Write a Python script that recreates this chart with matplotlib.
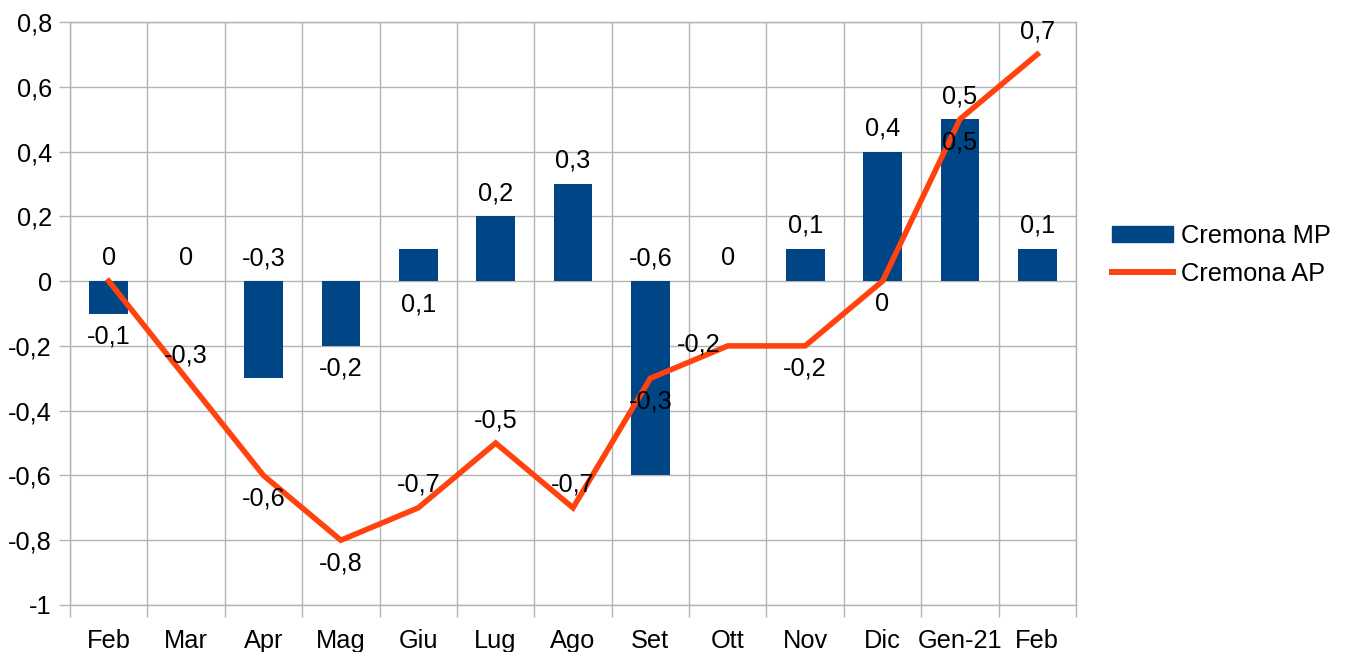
import matplotlib
matplotlib.use('Agg')
import matplotlib.pyplot as plt
from matplotlib.patches import Patch
from matplotlib.lines import Line2D
from matplotlib.ticker import FixedLocator, FuncFormatter

plt.rcParams['font.family'] = ['Liberation Sans', 'DejaVu Sans']

categories = ['Feb', 'Mar', 'Apr', 'Mag', 'Giu', 'Lug', 'Ago', 'Set', 'Ott', 'Nov', 'Dic', 'Gen-21', 'Feb']
mp_values = [-0.1, 0, -0.3, -0.2, 0.1, 0.2, 0.3, -0.6, 0, 0.1, 0.4, 0.5, 0.1]
ap_values = [0, -0.3, -0.6, -0.8, -0.7, -0.5, -0.7, -0.3, -0.2, -0.2, 0, 0.5, 0.7]
y_ticks = [-1, -0.8, -0.6, -0.4, -0.2, 0, 0.2, 0.4, 0.6, 0.8]
series_names = ['Cremona MP', 'Cremona AP']

# label placement (style): where each data label sits
mp_label_place = ['end_below', 'end_above', 'zero_above', 'end_below', 'zero_below', 'end_above',
                  'end_above', 'zero_above', 'end_above', 'end_above', 'end_above', 'end_above', 'end_above']
ap_label_place = ['above', 'above', 'below', 'below', 'above', 'above', 'above', 'below',
                  'left', 'below', 'below', 'below', 'above']

BAR_C = '#004586'
LINE_C = '#ff420e'
GRID_C = '#b3b3b3'
FS = 18.3

W, H = 1346, 652
fig = plt.figure(figsize=(W / 100, H / 100), dpi=100)
L, R, T, B = 70, 1076, 22, 605
ax = fig.add_axes([L / W, (H - B) / H, (R - L) / W, (B - T) / H])

x = list(range(len(categories)))
ax.bar(x, mp_values, width=0.5, color=BAR_C, zorder=2)
ax.plot(x, ap_values, color=LINE_C, lw=4.0, zorder=3, solid_joinstyle='miter')

ax.set_xlim(-0.5, len(categories) - 0.5)
ax.set_ylim(-1, 0.8)
ax.set_yticks(y_ticks)
ax.yaxis.set_major_formatter(FuncFormatter(lambda v, p: ('%g' % round(v, 1)).replace('.', ',')))
ax.set_xticks(x)
ax.set_xticklabels(categories)
ax.xaxis.set_minor_locator(FixedLocator([i - 0.5 for i in range(len(categories) + 1)]))

ax.tick_params(axis='x', which='major', length=0, pad=17, labelsize=FS)
ax.tick_params(axis='x', which='minor', length=8.5, color=GRID_C, width=1)
ax.tick_params(axis='y', length=8, color=GRID_C, width=1, pad=5, labelsize=FS)
ax.grid(axis='y', which='major', color=GRID_C, lw=1, zorder=0)
ax.grid(axis='x', which='minor', color=GRID_C, lw=1, zorder=0)
ax.grid(axis='x', which='major', visible=False)
ax.set_axisbelow(True)
for s in ax.spines.values():
    s.set_color(GRID_C)
    s.set_linewidth(1)

fmt = lambda v: ('%g' % round(v, 1)).replace('.', ',')
OFF = 23
for i, (v, p) in enumerate(zip(mp_values, mp_label_place)):
    anchor = v if p.startswith('end') else 0
    dy = OFF if p.endswith('above') else -OFF
    ax.annotate(fmt(v), (i, anchor), xytext=(0, dy), textcoords='offset pixels',
                ha='center', va='center', fontsize=FS, zorder=5)
for i, (v, p) in enumerate(zip(ap_values, ap_label_place)):
    if p == 'left':
        dx, dy = -29, 1
    else:
        dx, dy = 0, (OFF if p == 'above' else -OFF)
    ax.annotate(fmt(v), (i, v), xytext=(dx, dy), textcoords='offset pixels',
                ha='center', va='center', fontsize=FS, zorder=5)

handles = [Patch(facecolor=BAR_C, edgecolor=BAR_C),
           Line2D([0], [0], color=LINE_C, lw=4.3)]
fig.legend(handles, series_names, loc='center left', bbox_to_anchor=(1112 / W, 1 - 255 / H),
           frameon=False, fontsize=FS, handlelength=2.4, handleheight=0.6,
           handletextpad=0.3, labelspacing=0.55, borderpad=0, borderaxespad=0)

fig.savefig('out.png', dpi=100)
